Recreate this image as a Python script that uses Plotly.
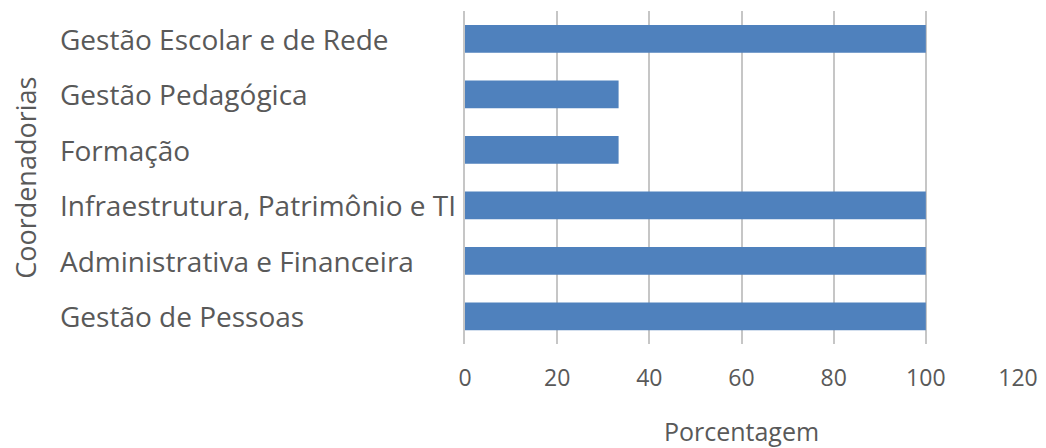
import plotly.graph_objects as go

categories = ["Gestão de Pessoas", "Administrativa e Financeira",
              "Infraestrutura, Patrimônio e TI", "Formação",
              "Gestão Pedagógica", "Gestão Escolar e de Rede"]
values = [100, 100, 100, 33.33, 33.33, 100]
x_ticks = [0, 20, 40, 60, 80, 100, 120]

FONT = "Open Sans"
GRAY = "#595959"

fig = go.Figure(go.Bar(
    x=values, y=categories, orientation="h",
    marker=dict(color="#4f81bd", line=dict(width=0)),
    width=0.5,
))

annotations = [
    dict(x=-0.736, y=c, xref="paper", yref="y", text=c, showarrow=False,
         xanchor="left", yanchor="middle",
         font=dict(family=FONT, size=28, color=GRAY))
    for c in categories
]
annotations.append(dict(
    x=-0.795, y=0.5, xref="paper", yref="paper", text="Coordenadorias",
    textangle=-90, showarrow=False, xanchor="center", yanchor="middle",
    font=dict(family=FONT, size=27, color=GRAY)))

fig.update_layout(
    width=1038, height=440,
    margin=dict(l=457, r=28, t=3, b=102),
    plot_bgcolor="white", paper_bgcolor="white",
    showlegend=False,
    annotations=annotations,
    xaxis=dict(
        range=[0, 120], tickvals=x_ticks, showgrid=True,
        gridcolor="#c6c6c6", gridwidth=2, zeroline=False,
        showline=False, ticks="", ticklabelstandoff=18,
        tickfont=dict(family=FONT, size=23, color=GRAY),
        title=dict(text="Porcentagem", standoff=34,
                   font=dict(family=FONT, size=25, color=GRAY)),
    ),
    yaxis=dict(
        showticklabels=False, showgrid=False, zeroline=False,
        showline=True, linecolor="#c6c6c6", linewidth=2, ticks="",
        range=[-0.5, 5.5],
    ),
)

fig.write_html("out.html")
